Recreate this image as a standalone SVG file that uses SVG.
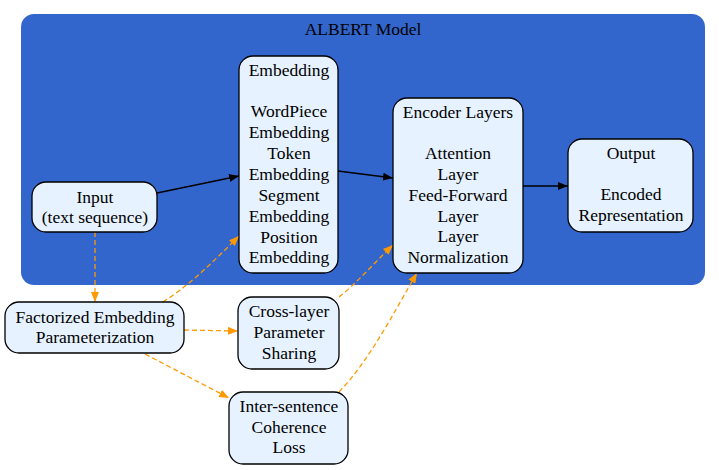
<svg xmlns="http://www.w3.org/2000/svg" width="719" height="470" viewBox="0 0 719 470" font-family="Liberation Serif" font-size="17.5">
<style>
.n rect{fill:#e6f2ff;stroke:#000;stroke-width:1.3}
.t{font-family:'Liberation Serif',serif !important;font-size:17.5px;fill:#000;text-anchor:middle}
.s{stroke:#000;stroke-width:1.3;fill:none}
.d{stroke:#ff9900;stroke-width:1.3;fill:none;stroke-dasharray:5,3}
</style>
<defs>
<marker id="ab" viewBox="0 0 10 8" refX="10" refY="4" markerWidth="10" markerHeight="8" markerUnits="userSpaceOnUse" orient="auto"><path d="M0,0L10,4L0,8z" fill="#000"/></marker>
<marker id="ao" viewBox="0 0 10 8" refX="10" refY="4" markerWidth="10" markerHeight="8" markerUnits="userSpaceOnUse" orient="auto"><path d="M0,0L10,4L0,8z" fill="#ff9900"/></marker>
</defs>
<g id="cluster">
<rect x="21" y="14" width="684" height="271" rx="13" fill="#3366cc"/>
<text class="t" x="363" y="35" style="font-family:'Liberation Serif',serif">ALBERT Model</text>
</g>
<g id="connectors">
<path class="s" d="M157,193L239,176" marker-end="url(#ab)"/>
<path class="s" d="M338,171L393,178" marker-end="url(#ab)"/>
<path class="s" d="M523,186L568,186" marker-end="url(#ab)"/>
<path class="d" d="M95,232L95,302" marker-end="url(#ao)"/>
<path class="d" d="M163,302C190,285 215,260 239,236" marker-end="url(#ao)"/>
<path class="d" d="M184,330L238,331" marker-end="url(#ao)"/>
<path class="d" d="M145,354L229,398" marker-end="url(#ao)"/>
<path class="d" d="M339,297C358,282 375,262 393,245" marker-end="url(#ao)"/>
<path class="d" d="M339,392C370,360 395,310 417,273" marker-end="url(#ao)"/>
</g>
<g id="input" class="n">
<rect x="32" y="182" width="125" height="50" rx="14"/>
<text class="t" x="95" y="203" style="font-family:'Liberation Serif',serif">Input</text>
<text class="t" x="95" y="223" style="font-family:'Liberation Serif',serif">(text sequence)</text>
</g>
<g id="embedding" class="n">
<rect x="239" y="56" width="99" height="217" rx="14"/>
<text class="t" x="289" y="76" style="font-family:'Liberation Serif',serif">Embedding</text>
<text class="t" x="289" y="117" style="font-family:'Liberation Serif',serif">WordPiece</text>
<text class="t" x="289" y="138" style="font-family:'Liberation Serif',serif">Embedding</text>
<text class="t" x="289" y="159" style="font-family:'Liberation Serif',serif">Token</text>
<text class="t" x="289" y="180" style="font-family:'Liberation Serif',serif">Embedding</text>
<text class="t" x="289" y="201" style="font-family:'Liberation Serif',serif">Segment</text>
<text class="t" x="289" y="222" style="font-family:'Liberation Serif',serif">Embedding</text>
<text class="t" x="289" y="243" style="font-family:'Liberation Serif',serif">Position</text>
<text class="t" x="289" y="263" style="font-family:'Liberation Serif',serif">Embedding</text>
</g>
<g id="encoder" class="n">
<rect x="393" y="98" width="130" height="175" rx="14"/>
<text class="t" x="458" y="118" style="font-family:'Liberation Serif',serif">Encoder Layers</text>
<text class="t" x="458" y="159" style="font-family:'Liberation Serif',serif">Attention</text>
<text class="t" x="458" y="180" style="font-family:'Liberation Serif',serif">Layer</text>
<text class="t" x="458" y="201" style="font-family:'Liberation Serif',serif">Feed-Forward</text>
<text class="t" x="458" y="222" style="font-family:'Liberation Serif',serif">Layer</text>
<text class="t" x="458" y="242" style="font-family:'Liberation Serif',serif">Layer</text>
<text class="t" x="458" y="263" style="font-family:'Liberation Serif',serif">Normalization</text>
</g>
<g id="output" class="n">
<rect x="568" y="139" width="125" height="93" rx="14"/>
<text class="t" x="631" y="159" style="font-family:'Liberation Serif',serif">Output</text>
<text class="t" x="631" y="200" style="font-family:'Liberation Serif',serif">Encoded</text>
<text class="t" x="631" y="221" style="font-family:'Liberation Serif',serif">Representation</text>
</g>
<g id="factorized" class="n">
<rect x="5" y="302" width="179" height="51" rx="14"/>
<text class="t" x="95" y="323" style="font-family:'Liberation Serif',serif">Factorized Embedding</text>
<text class="t" x="95" y="343" style="font-family:'Liberation Serif',serif">Parameterization</text>
</g>
<g id="crosslayer" class="n">
<rect x="238" y="297" width="101" height="72" rx="14"/>
<text class="t" x="289" y="317" style="font-family:'Liberation Serif',serif">Cross-layer</text>
<text class="t" x="289" y="338" style="font-family:'Liberation Serif',serif">Parameter</text>
<text class="t" x="289" y="359" style="font-family:'Liberation Serif',serif">Sharing</text>
</g>
<g id="intersentence" class="n">
<rect x="229" y="392" width="119" height="72" rx="14"/>
<text class="t" x="289" y="412" style="font-family:'Liberation Serif',serif">Inter-sentence</text>
<text class="t" x="289" y="433" style="font-family:'Liberation Serif',serif">Coherence</text>
<text class="t" x="289" y="453" style="font-family:'Liberation Serif',serif">Loss</text>
</g>
</svg>
